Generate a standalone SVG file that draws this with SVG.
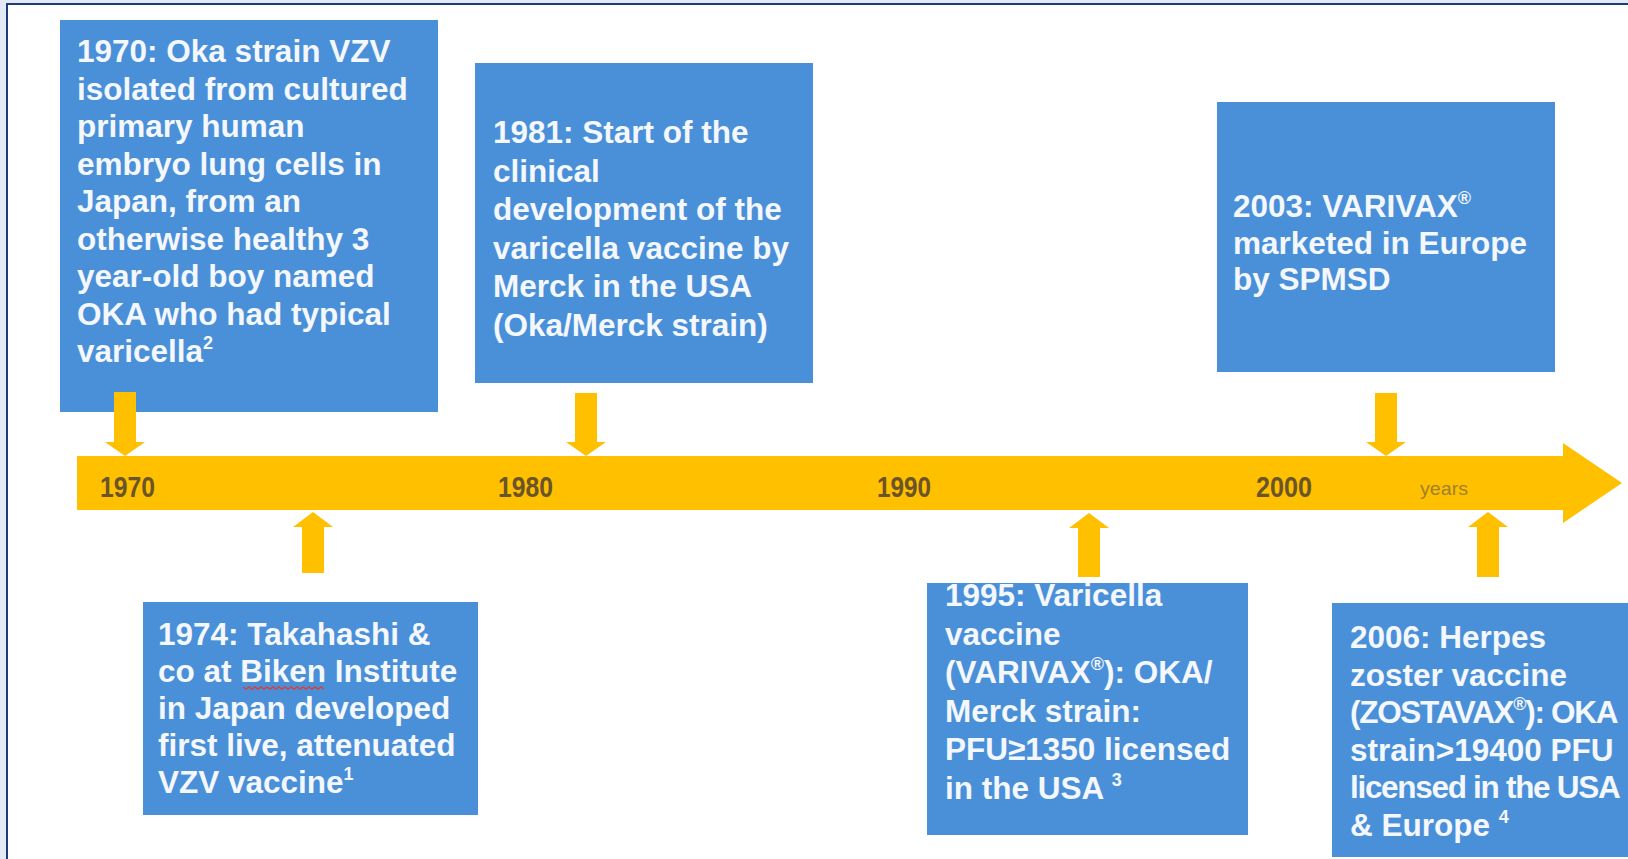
<svg xmlns="http://www.w3.org/2000/svg" width="1628" height="859" viewBox="0 0 1628 859">
<style>
.bg { fill:#ffffff; }
.box { fill:#4A90D9; }
.t { font-family:"Liberation Sans", Arial, sans-serif; font-weight:bold; font-size:31.5px; fill:#F4F7FC; }
.tight { letter-spacing:-1.3px; }
.sup { font-size:18px; }
.yr { font-family:"Liberation Sans", Arial, sans-serif; font-weight:bold; font-size:30px; fill:#6B5428; }
.yrs { font-family:"Liberation Sans", Arial, sans-serif; font-size:19px; fill:#A0802E; }
.arr { fill:#FFC000; }
</style>
<defs>
<clipPath id="clip1995"><rect x="927" y="583" width="321" height="252"/></clipPath>
</defs>
<rect x="0" y="0" width="1628" height="859" fill="#E3EAF5"/>
<rect class="bg" x="8" y="5" width="1620" height="854"/>
<path d="M7,859 V4 H1628" fill="none" stroke="#1F3A78" stroke-width="2"/>

<g id="timeline">
<polygon class="arr" points="77,456 1563,456 1563,443 1622,483 1563,523 1563,510 77,510"/>
<text class="yr" x="100" y="497" textLength="55" lengthAdjust="spacingAndGlyphs">1970</text>
<text class="yr" x="498" y="497" textLength="55" lengthAdjust="spacingAndGlyphs">1980</text>
<text class="yr" x="877" y="497" textLength="54" lengthAdjust="spacingAndGlyphs">1990</text>
<text class="yr" x="1256" y="497" textLength="56" lengthAdjust="spacingAndGlyphs">2000</text>
<text class="yrs" x="1420" y="495" textLength="48" lengthAdjust="spacingAndGlyphs">years</text>
</g>

<g id="n1970">
<rect class="box" x="60" y="20" width="378" height="392"/>
<text class="t" x="77" y="62">1970: Oka strain VZV</text>
<text class="t" x="77" y="99.5">isolated from cultured</text>
<text class="t" x="77" y="137">primary human</text>
<text class="t" x="77" y="174.5">embryo lung cells in</text>
<text class="t" x="77" y="212">Japan, from an</text>
<text class="t" x="77" y="249.5">otherwise healthy 3</text>
<text class="t" x="77" y="287">year-old boy named</text>
<text class="t" x="77" y="324.5">OKA who had typical</text>
<text class="t" x="77" y="362">varicella<tspan class="sup" dy="-13">2</tspan></text>
</g>

<g id="n1981">
<rect class="box" x="475" y="63" width="338" height="320"/>
<text class="t" x="493" y="143">1981: Start of the</text>
<text class="t" x="493" y="181.5">clinical</text>
<text class="t" x="493" y="220">development of the</text>
<text class="t" x="493" y="258.5">varicella vaccine by</text>
<text class="t" x="493" y="297">Merck in the USA</text>
<text class="t" x="493" y="335.5">(Oka/Merck strain)</text>
</g>

<g id="n2003">
<rect class="box" x="1217" y="102" width="338" height="270"/>
<text class="t" x="1233" y="217">2003: VARIVAX<tspan class="sup" dy="-13">®</tspan></text>
<text class="t" x="1233" y="253.5">marketed in Europe</text>
<text class="t" x="1233" y="290">by SPMSD</text>
</g>

<g id="n1974">
<rect class="box" x="143" y="602" width="335" height="213"/>
<text class="t" x="158" y="645">1974: Takahashi &amp;</text>
<text class="t" x="158" y="682">co at Biken Institute</text>
<path d="M243,687 l3,2 l3,-2 l3,2 l3,-2 l3,2 l3,-2 l3,2 l3,-2 l3,2 l3,-2 l3,2 l3,-2 l3,2 l3,-2 l3,2 l3,-2 l3,2 l3,-2 l3,2 l3,-2 l3,2 l3,-2 l3,2 l3,-2 l3,2 l3,-2 l3,2" fill="none" stroke="#D9403A" stroke-width="1.5"/>
<text class="t" x="158" y="719">in Japan developed</text>
<text class="t" x="158" y="756">first live, attenuated</text>
<text class="t" x="158" y="793">VZV vaccine<tspan class="sup" dy="-13">1</tspan></text>
</g>

<g id="n1995">
<rect class="box" x="927" y="583" width="321" height="252"/>
<g clip-path="url(#clip1995)">
<text class="t" x="945" y="606">1995: Varicella</text>
<text class="t" x="945" y="644.5">vaccine</text>
<text class="t" x="945" y="683">(VARIVAX<tspan class="sup" dy="-13">®</tspan><tspan dy="13">): OKA/</tspan></text>
<text class="t" x="945" y="721.5">Merck strain:</text>
<text class="t" x="945" y="760">PFU≥1350 licensed</text>
<text class="t" x="945" y="798.5">in the USA <tspan class="sup" dy="-13">3</tspan></text>
</g>
</g>

<g id="n2006">
<rect class="box" x="1332" y="603" width="296" height="254"/>
<text class="t" x="1350" y="648">2006: Herpes</text>
<text class="t" x="1350" y="685.5">zoster vaccine</text>
<text class="t tight" x="1350" y="723">(ZOSTAVAX<tspan class="sup" dy="-13">®</tspan><tspan dy="13">): OKA</tspan></text>
<text class="t" x="1350" y="760.5">strain&gt;19400 PFU</text>
<text class="t tight" x="1350" y="798">licensed in the USA</text>
<text class="t" x="1350" y="835.5">&amp; Europe <tspan class="sup" dy="-13">4</tspan></text>
</g>

<g id="connectors">
<polygon class="arr" points="114,392 136,392 136,442 145,442 125,456 105,442 114,442"/>
<polygon class="arr" points="575,393 597,393 597,442 606,442 586,456 566,442 575,442"/>
<polygon class="arr" points="1375,393 1397,393 1397,442 1406,442 1386,456 1366,442 1375,442"/>
<polygon class="arr" points="313,512 333,527 324,527 324,573 302,573 302,527 293,527"/>
<polygon class="arr" points="1089,513 1109,528 1100,528 1100,577 1078,577 1078,528 1069,528"/>
<polygon class="arr" points="1488,512 1508,527 1499,527 1499,577 1477,577 1477,527 1468,527"/>
</g>
</svg>
